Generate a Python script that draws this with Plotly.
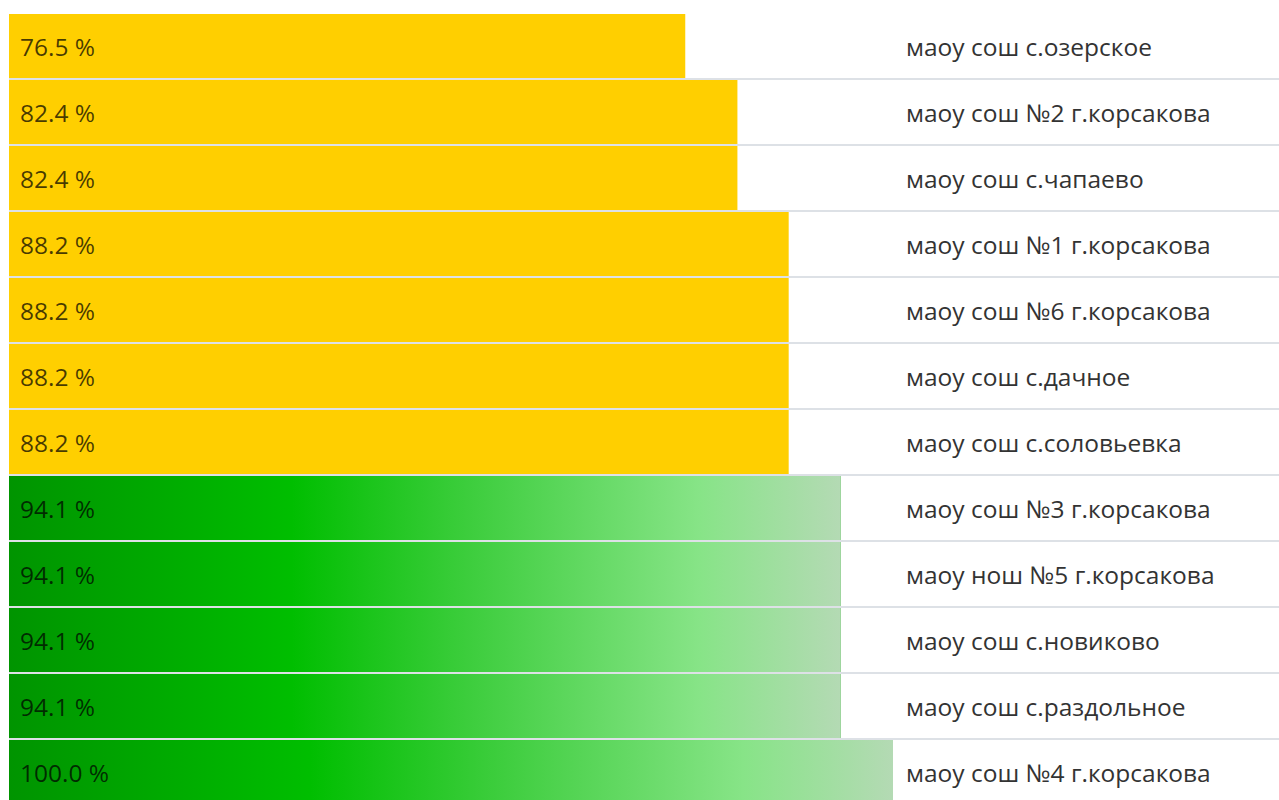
import plotly.graph_objects as go

# ---- data (top row first) ----
schools = [
    "маоу сош с.озерское",
    "маоу сош №2 г.корсакова",
    "маоу сош с.чапаево",
    "маоу сош №1 г.корсакова",
    "маоу сош №6 г.корсакова",
    "маоу сош с.дачное",
    "маоу сош с.соловьевка",
    "маоу сош №3 г.корсакова",
    "маоу нош №5 г.корсакова",
    "маоу сош с.новиково",
    "маоу сош с.раздольное",
    "маоу сош №4 г.корсакова",
]
values = [76.5, 82.4, 82.4, 88.2, 88.2, 88.2, 88.2, 94.1, 94.1, 94.1, 94.1, 100.0]

# ---- style ----
YELLOW = "#FFCF00"
GREEN = "#00B000"
GREEN_SCALE = [
    [0.0, "rgb(0,148,0)"],
    [0.34, "rgb(0,190,0)"],
    [0.55, "rgb(60,205,60)"],
    [0.83, "rgb(135,228,135)"],
    [1.0, "rgb(180,218,180)"],
]
THRESH = 90
ROW_FILL = 64 / 66
FONT = "Open Sans"
FSIZE = 24.5

idx = list(range(len(values)))
colors = [YELLOW if v < THRESH else GREEN for v in values]

fig = go.Figure()
fig.add_trace(go.Bar(
    y=idx, x=values, orientation="h", width=ROW_FILL,
    marker=dict(color=colors, line=dict(width=0)),
    hoverinfo="skip", showlegend=False,
))

h = ROW_FILL / 2
for i, v in zip(idx, values):
    if v >= THRESH:
        fig.add_trace(go.Scatter(
            x=[0, v, v, 0, 0], y=[i - h, i - h, i + h, i + h, i - h],
            mode="lines", line=dict(width=0), fill="toself",
            fillgradient=dict(type="horizontal", colorscale=GREEN_SCALE),
            hoverinfo="skip", showlegend=False,
        ))

annotations = []
for i, (s, v) in enumerate(zip(schools, values)):
    annotations.append(dict(
        x=0, y=i, xref="x", yref="y", xanchor="left", yanchor="middle",
        xshift=9, text=f"{v:.1f} %", showarrow=False,
        font=dict(family=FONT, size=FSIZE, color="rgba(0,0,0,0.72)"),
    ))
    annotations.append(dict(
        x=100, y=i, xref="x", yref="y", xanchor="left", yanchor="middle",
        xshift=11, text=s, showarrow=False,
        font=dict(family=FONT, size=FSIZE, color="#333333"),
    ))

fig.update_layout(
    width=1279, height=808,
    margin=dict(l=9, r=0, t=13, b=3),
    paper_bgcolor="white", plot_bgcolor="white",
    showlegend=False, barmode="overlay",
    xaxis=dict(range=[0, 1270 / 8.84], showgrid=False, zeroline=False,
               showticklabels=False, ticks="", fixedrange=True),
    yaxis=dict(range=[11.5, -0.5], tick0=-0.5, dtick=1, showgrid=True,
               gridcolor="#dde1e6", gridwidth=2, zeroline=False,
               showticklabels=False, ticks="", fixedrange=True),
    annotations=annotations,
)

fig.write_html(
    "out.html", include_plotlyjs=True, full_html=True,
    config={"displayModeBar": False},
    post_script="document.body.style.margin='0';document.body.style.overflow='hidden';",
)
